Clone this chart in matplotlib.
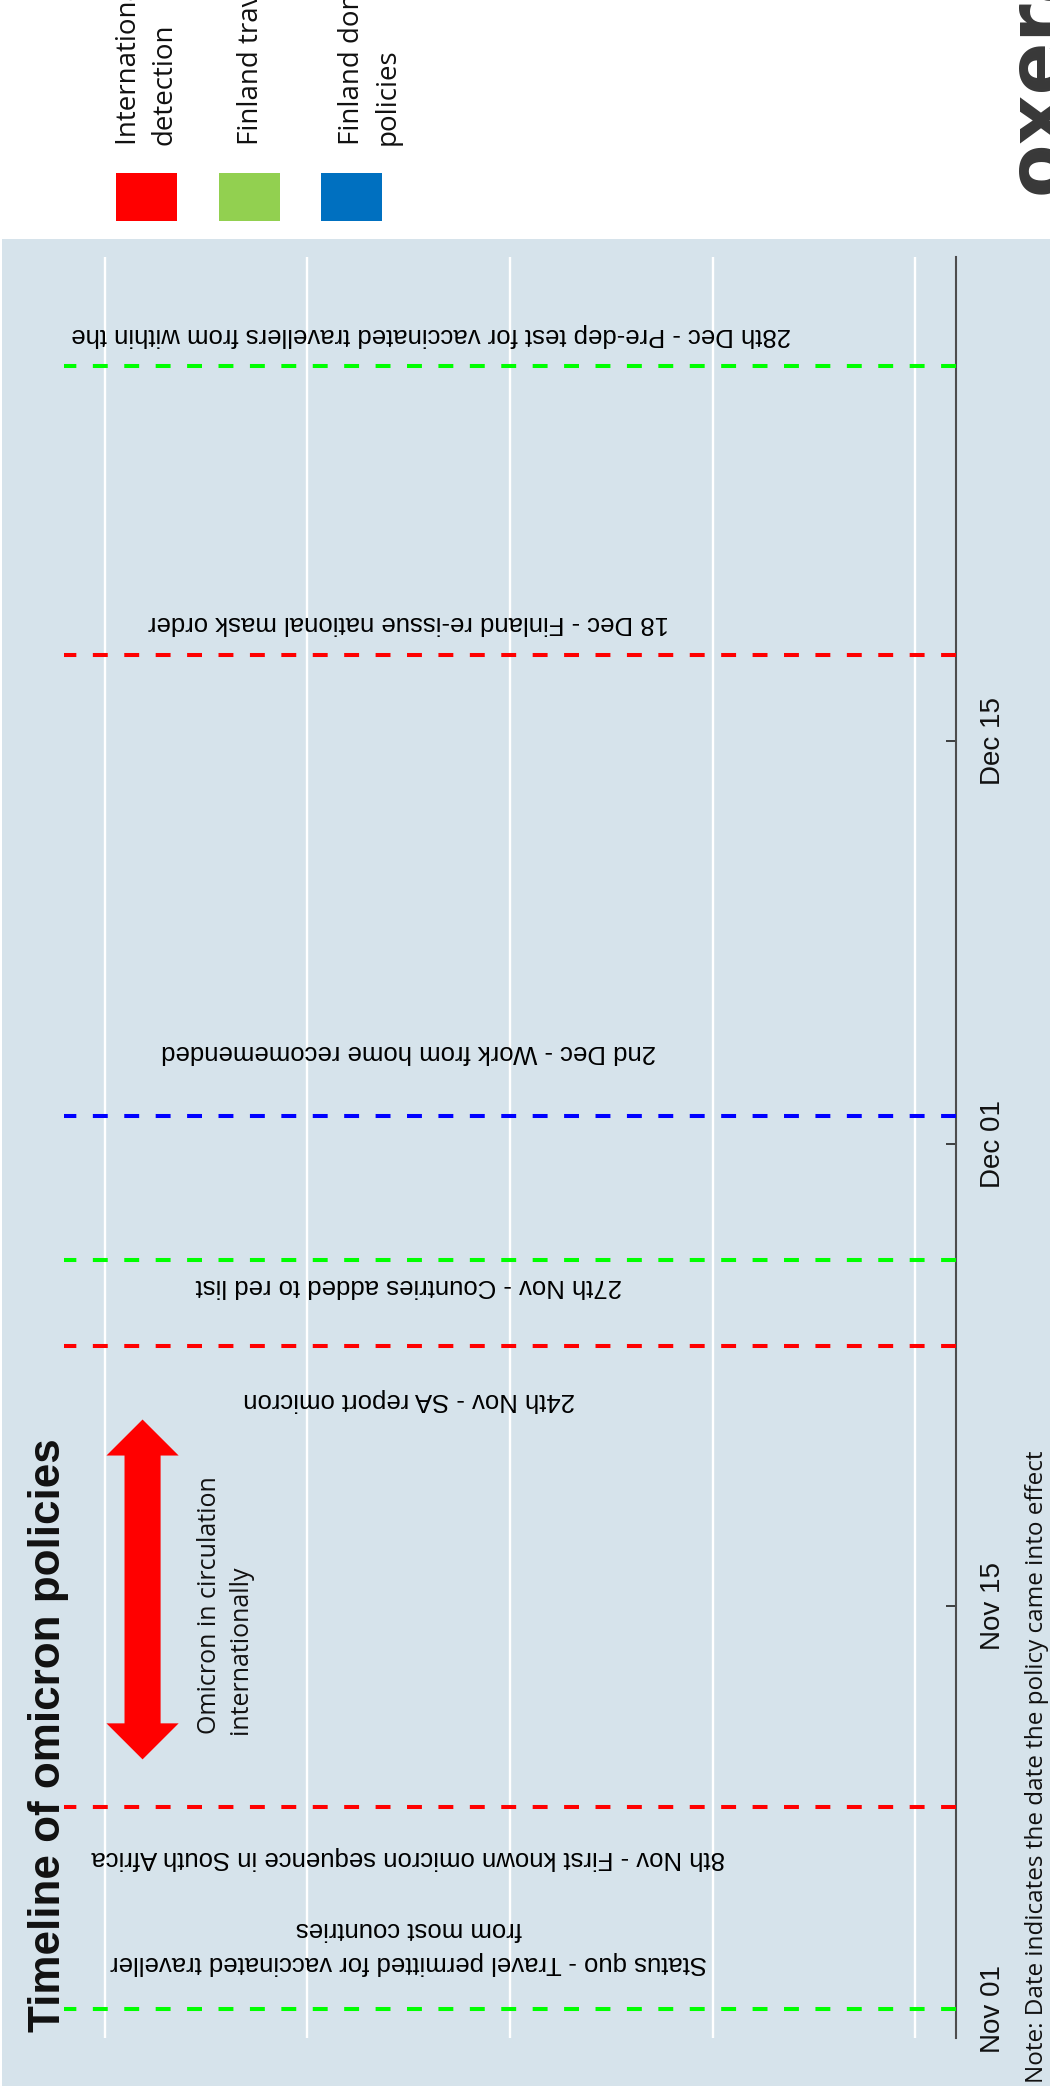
import matplotlib
matplotlib.use("Agg")
import matplotlib.pyplot as plt
import matplotlib.dates as mdates
from matplotlib.patches import Rectangle, Polygon
import pandas as pd

W, H = 1050, 2086

# policy events
event_dates = pd.to_datetime(['2021-11-01', '2021-11-08', '2021-11-24', '2021-11-27',
                              '2021-12-02', '2021-12-18', '2021-12-28'])
event_labels = [
    'Status quo - Travel permitted for vaccinated traveller\nfrom most countries',
    '8th Nov - First known omicron sequence in South Africa',
    '24th Nov - SA report omicron',
    '27th Nov - Countries added to red list',
    '2nd Dec - Work from home recomemended',
    '18 Dec - Finland re-issue national mask order',
    '28th Dec - Pre-dep test for vaccinated travellers from within the',
]
event_kind = ['travel', 'intl', 'intl', 'travel', 'domestic', 'intl', 'travel']
label_shift_days = [2.2, -1.75, -1.85, -0.9, 2.2, 1.1, 1.1]
label_x = [1.5, 1.5, 1.5, 1.5, 1.5, 1.5, 1.61]

legend_labels = ['International omicron\ndetection', 'Finland travel policies',
                 'Finland domestic\npolicies']
legend_colors = ['#ff0000', '#92d050', '#0070c0']

tick_dates = pd.to_datetime(['2021-11-01', '2021-11-15', '2021-12-01', '2021-12-15'])
date_range = pd.to_datetime(['2021-10-31 00:00', '2021-12-31 19:00'])

# period when omicron was circulating before it was reported
circulation = pd.to_datetime(['2021-11-09 16:00', '2021-11-21 11:00'])

line_colors = {'intl': '#ff0000', 'travel': '#00ff00', 'domestic': '#0000ff'}
panel_bg = '#d6e3eb'


def fx(px):
    return px / W


def fy(py):
    return 1 - py / H


fig = plt.figure(figsize=(W / 100, H / 100), dpi=100)
fig.patch.set_facecolor('white')

# shaded panel behind the timeline
fig.patches.append(Rectangle((fx(2), 0), 1, fy(239), transform=fig.transFigure,
                             facecolor=panel_bg, edgecolor='none', zorder=-5))

ax = fig.add_axes([fx(64), fy(2038), fx(956) - fx(64), fy(257) - fy(2038)])
ax.set_zorder(2)
ax.patch.set_alpha(0)
ax.set_xlim(-0.2, 4.2)
ax.set_ylim(mdates.date2num(date_range[0]), mdates.date2num(date_range[1]))

# value gridlines, no labels
ax.set_xticks([0, 1, 2, 3, 4])
ax.grid(axis='x', color='white', lw=1.7)
ax.set_axisbelow(True)
ax.tick_params(axis='x', length=0, labelbottom=False)

for s in ['top', 'left', 'bottom']:
    ax.spines[s].set_visible(False)
ax.spines['right'].set_color('#4d4d4d')
ax.spines['right'].set_linewidth(1.5)

# date axis on the right, ticks pointing into the panel
ax.yaxis.tick_right()
ax.tick_params(axis='y', direction='in', length=7, width=1.2, color='#222222', pad=17,
               labelsize=20, labelfontfamily='Liberation Sans', labelcolor='#111111',
               labelrotation=90)
ax.set_yticks(mdates.date2num(tick_dates))
ax.set_yticklabels([d.strftime('%b %d') for d in tick_dates],
                   fontsize=20, family='Liberation Sans', color='#111111',
                   rotation=90, va='center', ha='left')

x0, x1 = ax.get_xlim()
for d, kind, lab, shift, lx in zip(event_dates, event_kind, event_labels,
                                   label_shift_days, label_x):
    dn = mdates.date2num(d)
    ax.plot([x1, x0], [dn, dn], color=line_colors[kind], lw=2.9,
            linestyle=(0, (3.7, 4.1)), dash_capstyle='butt', zorder=3)
    ax.text(lx, dn + shift, lab, rotation=180, ha='center', va='center',
            fontsize=18.5, family='Liberation Sans', color='black',
            multialignment='center', linespacing=1.5)

# double-headed arrow for circulation period
a0, a1 = mdates.date2num(circulation[0]), mdates.date2num(circulation[1])
xc, hw, sw, hl = 0.1875, 0.178, 0.089, 1.25
arrow = Polygon([(xc, a1), (xc + hw, a1 - hl), (xc + sw, a1 - hl), (xc + sw, a0 + hl),
                 (xc + hw, a0 + hl), (xc, a0), (xc - hw, a0 + hl), (xc - sw, a0 + hl),
                 (xc - sw, a1 - hl), (xc - hw, a1 - hl)],
                closed=True, facecolor='#ff0000', edgecolor='none', zorder=3)
ax.add_patch(arrow)
ax.text(0.458, a0 + 0.87, 'Omicron in circulation\ninternationally', rotation=90,
        ha='left', va='bottom', fontsize=18, family='Open Sans', color='#111111',
        multialignment='left', linespacing=1.3)

# title
fig.text(fx(28), fy(2032), 'Timeline of omicron policies', rotation=90,
         ha='left', va='bottom', fontsize=31.7, fontweight='bold',
         family='Liberation Sans', color='#111111')

# legend swatches with labels
legend_left = [116, 219, 321]
legend_text_left = [115, 237, 338]
for lab, col, lx, tx in zip(legend_labels, legend_colors, legend_left, legend_text_left):
    fig.patches.append(Rectangle((fx(lx), fy(221)), 61 / W, 48 / H,
                                 transform=fig.transFigure, facecolor=col,
                                 edgecolor='none'))
    fig.text(fx(tx), fy(145), lab, rotation=90, ha='left', va='bottom',
             fontsize=20, family='Open Sans', color='#111111',
             multialignment='left', linespacing=1.35)

# logo
fig.text(fx(1001), fy(194), 'oxera', rotation=90, ha='left', va='bottom',
         fontsize=56, fontweight='bold', family='DejaVu Sans', color='#383838')

# footnote
fig.text(fx(1049), fy(2083), 'Note: Date indicates the date the policy came into effect',
         rotation=90, ha='right', va='bottom', fontsize=17.5, family='Open Sans',
         color='#111111')

fig.savefig('out.png', dpi=100)
